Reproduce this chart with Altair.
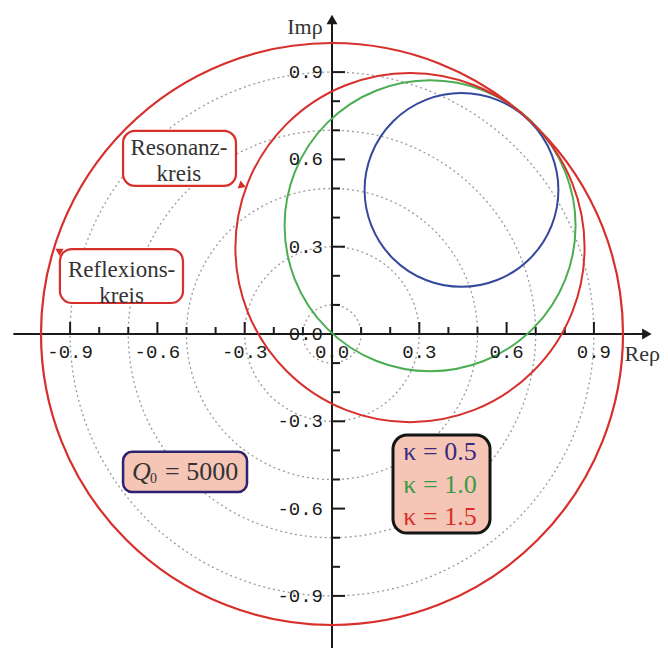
import math
import altair as alt
import pandas as pd

# Resonance circles of the reflection coefficient rho for three coupling factors
KAPPA_LABELS = ["κ = 0.5", "κ = 1.0", "κ = 1.5"]
CENTER_RE = [0.445, 0.337, 0.268]
CENTER_IM = [0.495, 0.372, 0.297]
RADIUS = [0.333, 0.5, 0.6]

# Reflection circle |rho| = 1 and dotted polar grid
REFLEXION_RADIUS = [1.0]
GRID_RADII = [0.1, 0.3, 0.5, 0.7, 0.9]

# Axis ticks and labels (same values on both axes)
MAJOR_TICKS = [-0.9, -0.6, -0.3, 0.3, 0.6, 0.9]
MINOR_TICKS = [-0.8, -0.7, -0.5, -0.4, -0.2, -0.1, 0.1, 0.2, 0.4, 0.5, 0.7, 0.8]
LABEL_VALUES = [-0.9, -0.6, -0.3, 0.0, 0.3, 0.6, 0.9]
TICK_LABELS = ["-0.9", "-0.6", "-0.3", "0.0", "0.3", "0.6", "0.9"]

# Styling
KAPPA_COLORS = ["#34489c", "#4cae52", "#d7302c"]
KAPPA_TEXT_COLORS = ["#3a2a80", "#3a9a48", "#d7302c"]
RED = "#d7302c"
AXIS_COLOR = "#1a1a1a"
BOX_FILL = "#f5c5b6"
TEXT_COLOR = "#333333"
SERIF = "Liberation Serif"
MONO = "Liberation Mono"

W, H = 668, 648
UNIT = 291.0            # pixels per unit of rho
ORIGIN = (332, 334)     # pixel position of rho = 0
TAU = 2 * math.pi

x_scale = alt.Scale(domain=[-ORIGIN[0] / UNIT, (W - ORIGIN[0]) / UNIT], nice=False, zero=False)
y_scale = alt.Scale(domain=[-(H - ORIGIN[1]) / UNIT, ORIGIN[1] / UNIT], nice=False, zero=False)
r_scale = alt.Scale(type="linear", domain=[0, 1], range=[0, UNIT])


def X(field):
    return alt.X(f"{field}:Q", scale=x_scale, axis=None)


def Y(field):
    return alt.Y(f"{field}:Q", scale=y_scale, axis=None)


def circles(df, **mark):
    return alt.Chart(df).mark_arc(filled=False, theta=0, theta2=TAU, **mark).encode(
        x=X("re"), y=Y("im"), radius=alt.Radius("r:Q", scale=r_scale, stack=None)
    )


# --- polar grid and circles -------------------------------------------------
grid_df = pd.DataFrame({"r": GRID_RADII, "re": 0.0, "im": 0.0})
grid = circles(grid_df, stroke="#9a9a9a", strokeWidth=1.3, strokeDash=[2, 3])

refl_df = pd.DataFrame({"r": REFLEXION_RADIUS, "re": 0.0, "im": 0.0})
reflexion = circles(refl_df, stroke=RED, strokeWidth=2.2)

res_df = pd.DataFrame({"label": KAPPA_LABELS, "re": CENTER_RE, "im": CENTER_IM, "r": RADIUS})
resonance = circles(res_df, strokeWidth=2).encode(
    stroke=alt.Stroke("label:N", scale=alt.Scale(domain=KAPPA_LABELS, range=KAPPA_COLORS), legend=None)
)

# --- axes -------------------------------------------------------------------
x_axis = alt.Chart(pd.DataFrame({"a": [-1.095], "b": [1.08], "c": [0.0]})).mark_rule(
    color=AXIS_COLOR, strokeWidth=2
).encode(x=X("a"), x2="b:Q", y=Y("c"))
y_axis = alt.Chart(pd.DataFrame({"a": [-1.08], "b": [1.08], "c": [0.0]})).mark_rule(
    color=AXIS_COLOR, strokeWidth=2
).encode(y=Y("a"), y2="b:Q", x=X("c"))

x_arrow = alt.Chart(pd.DataFrame({"re": [1.082], "im": [0.0]})).mark_point(
    shape="triangle-right", filled=True, size=120, color=AXIS_COLOR, opacity=1
).encode(x=X("re"), y=Y("im"))
y_arrow = alt.Chart(pd.DataFrame({"re": [0.0], "im": [1.081]})).mark_point(
    shape="triangle-up", filled=True, size=120, color=AXIS_COLOR, opacity=1
).encode(x=X("re"), y=Y("im"))

major_df = pd.DataFrame({"v": MAJOR_TICKS, "z": 0.0})
minor_df = pd.DataFrame({"v": MINOR_TICKS, "z": 0.0})

x_major = alt.Chart(major_df).mark_tick(orient="vertical", size=12, thickness=2, yOffset=-6, color=AXIS_COLOR, opacity=1).encode(x=X("v"), y=Y("z"))
x_minor = alt.Chart(minor_df).mark_tick(orient="vertical", size=7, thickness=2, yOffset=-3.5, color=AXIS_COLOR, opacity=1).encode(x=X("v"), y=Y("z"))
y_major = alt.Chart(major_df).mark_tick(orient="horizontal", size=13, thickness=2, xOffset=6.5, color=AXIS_COLOR, opacity=1).encode(y=Y("v"), x=X("z"))
y_minor = alt.Chart(minor_df).mark_tick(orient="horizontal", size=8, thickness=2, xOffset=4, color=AXIS_COLOR, opacity=1).encode(y=Y("v"), x=X("z"))

labels_df = pd.DataFrame({"v": LABEL_VALUES, "t": TICK_LABELS, "z": 0.0})
x_labels = alt.Chart(labels_df).mark_text(
    font=MONO, fontSize=19, align="center", baseline="middle", dy=18, color=AXIS_COLOR
).encode(x=X("v"), y=Y("z"), text="t:N")
y_labels = alt.Chart(labels_df).mark_text(
    font=MONO, fontSize=19, align="right", baseline="middle", dx=-9, color=AXIS_COLOR
).encode(y=Y("v"), x=X("z"), text="t:N")

re_title = alt.Chart(pd.DataFrame({"re": [1.005], "im": [0.0], "t": ["Reρ"]})).mark_text(
    font=SERIF, fontSize=22, align="left", baseline="middle", dy=20, color=TEXT_COLOR
).encode(x=X("re"), y=Y("im"), text="t:N")
im_title = alt.Chart(pd.DataFrame({"re": [-0.093], "im": [1.055], "t": ["Imρ"]})).mark_text(
    font=SERIF, fontSize=22, align="center", baseline="middle", color=TEXT_COLOR
).encode(x=X("re"), y=Y("im"), text="t:N")


# --- annotation boxes ---------------------------------------------------------
def box(x0, x1, y0, y1, fill, stroke, width, corner):
    df = pd.DataFrame({"x0": [x0], "x1": [x1], "y0": [y0], "y1": [y1]})
    return alt.Chart(df).mark_rect(
        fill=fill, stroke=stroke, strokeWidth=width, cornerRadius=corner, opacity=1
    ).encode(x=X("x0"), x2="x1:Q", y=Y("y0"), y2="y1:Q")


res_box = box(-0.718, -0.330, 0.509, 0.698, "white", RED, 2.2, 12)
refl_box = box(-0.935, -0.512, 0.1065, 0.292, "white", RED, 2.2, 12)
q_box = box(-0.718, -0.292, -0.543, -0.405, BOX_FILL, "#2e2270", 2.5, 9)
k_box = box(0.2096, 0.543, -0.684, -0.347, BOX_FILL, "#141414", 3, 14)


def note(re, im, text, **mark):
    df = pd.DataFrame({"re": [re], "im": [im], "t": [text]})
    return alt.Chart(df).mark_text(**mark).encode(x=X("re"), y=Y("im"), text="t:N")


# two-line labels: the anchor sits on the first line
res_text = note(-0.526, 0.639, "Resonanz-\nkreis", font=SERIF, fontSize=23, lineBreak="\n",
                lineHeight=26, align="center", baseline="middle", color=TEXT_COLOR)
refl_text = note(-0.723, 0.220, "Reflexions-\nkreis", font=SERIF, fontSize=23, lineBreak="\n",
                 lineHeight=26, align="center", baseline="middle", color=TEXT_COLOR)

# arrow heads pointing from the labels onto their circles
res_arrow = alt.Chart(pd.DataFrame({"re": [-0.3076], "im": [0.5093]})).mark_point(
    shape="triangle-right", angle=20, filled=True, size=70, color=RED, opacity=1
).encode(x=X("re"), y=Y("im"))
refl_arrow = alt.Chart(pd.DataFrame({"re": [-0.9399], "im": [0.2869]})).mark_point(
    shape="triangle-left", angle=30, filled=True, size=70, color=RED, opacity=1
).encode(x=X("re"), y=Y("im"))

# Q0 = 5000 (italic Q with subscript 0)
q_center = (-0.505, -0.474)
q_main = note(*q_center, "Q", font=SERIF, fontSize=26, fontStyle="italic", align="left",
              baseline="middle", dx=-53, color=TEXT_COLOR)
q_sub = note(*q_center, "0", font=SERIF, fontSize=14, align="left", baseline="middle",
             dx=-35, dy=7, color=TEXT_COLOR)
q_rest = note(*q_center, "= 5000", font=SERIF, fontSize=26, align="left", baseline="middle",
              dx=-20, color=TEXT_COLOR)

# kappa legend
kappa_df = pd.DataFrame({"label": KAPPA_LABELS, "re": 0.3711, "im": [-0.4055, -0.5189, -0.6289]})
kappa_text = alt.Chart(kappa_df).mark_text(
    font=SERIF, fontSize=26, align="center", baseline="middle"
).encode(
    x=X("re"), y=Y("im"), text="label:N",
    color=alt.Color("label:N", scale=alt.Scale(domain=KAPPA_LABELS, range=KAPPA_TEXT_COLORS), legend=None),
)

chart = alt.layer(
    grid, x_axis, y_axis, x_major, x_minor, y_major, y_minor,
    reflexion, resonance, x_arrow, y_arrow, x_labels, y_labels, re_title, im_title,
    res_box, refl_box, q_box, k_box, res_text, refl_text, res_arrow, refl_arrow,
    q_main, q_sub, q_rest, kappa_text,
).resolve_scale(
    color="independent", stroke="independent"
).properties(
    width=W, height=H, padding=0, autosize="none", background="white"
).configure_view(strokeWidth=0)

chart.save("out.html", embed_options={"renderer": "svg", "actions": False})
